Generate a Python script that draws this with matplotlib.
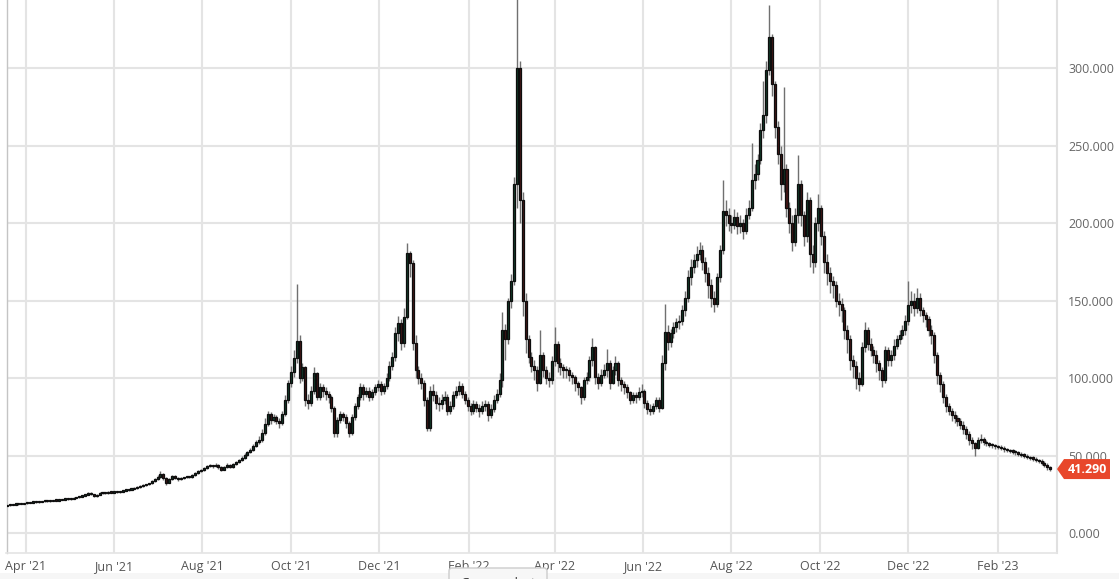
import matplotlib
matplotlib.use('Agg')
import matplotlib.pyplot as plt
import matplotlib.dates as mdates
from matplotlib.patches import Polygon, FancyBboxPatch, Rectangle
from matplotlib.transforms import IdentityTransform
import pandas as pd

plt.rcParams['font.family'] = ['Open Sans', 'DejaVu Sans']

# ---------------- data (one candle per 2 days) ----------------
start_date = '2021-03-19'
first_open = 17.5

closes = [
    17.8, 18.0, 18.3, 18.5, 18.7, 18.9, 19.2, 19.4, 19.6, 20.0,
    20.2, 20.1, 20.4, 20.6, 20.5, 20.8, 21.0, 20.9, 21.3, 21.5,
    21.8, 22.2, 22.0, 22.6, 23.1, 23.5, 24.2, 24.8, 26.0, 25.2,
    23.9, 24.8, 26.0, 25.6, 25.9, 26.4, 26.1, 26.5, 26.2, 26.8,
    27.3, 27.6, 28.0, 28.4, 28.9, 29.6, 30.2, 31.0, 31.4, 32.0,
    33.5, 34.8, 36.4, 38.0, 35.5, 32.5, 34.8, 36.8, 35.6, 34.7,
    35.4, 35.9, 36.4, 36.2, 37.4, 38.8, 40.0,
    40.5, 41.8, 43.0,
    43.5, 43.0, 44.2, 42.5, 41.0, 42.8, 44.0, 42.5, 44.5, 45.8,
    47.0, 48.5, 50.2, 52.0, 53.6, 56.0, 58.5, 60.0, 64.5, 70.5,
    77.0, 73.0, 75.0, 72.5, 71.0, 77.0, 86.0, 97.0, 104.0, 113.0,
    124.0, 100.0, 107.0, 86.0, 84.0, 92.0, 103.0, 88.0, 94.0, 92.0,
    90.0, 88.0, 81.0, 64.5, 73.0, 77.0, 75.0, 71.0, 64.5, 75.0,
    82.0, 88.0, 94.0, 90.0, 92.0, 88.0, 91.0, 94.0, 96.0, 92.0,
    95, 100, 108, 113.6, 129, 135.6, 122.6, 139.6, 180.8, 174,
    122.6, 105, 100, 97, 86, 68, 92, 89, 84, 83,
    86, 88, 79, 82, 89, 92, 95, 90, 86, 82,
    79, 83, 81, 79, 82, 83, 76, 80, 86, 90,
    99,
    131, 125, 150, 163, 225, 300, 215, 150, 125, 113.6,
    108, 105, 97, 115, 105, 100, 99, 111, 122, 110,
    107, 105, 105, 102, 100.7, 97, 94, 88, 99, 100.7,
    112, 120, 100.7, 97, 102, 105, 110, 97, 105, 110,
    99, 96, 94, 91, 86, 89, 88, 91, 92, 84,
    80, 79, 82, 86, 81, 110, 130, 123, 129, 133,
    136, 137, 144, 152, 165, 172, 176, 180, 183, 175,
    168, 160, 152, 148, 165, 183, 208, 205, 200, 199,
    204, 198, 200, 195, 205, 210, 228, 232, 241, 260,
    270, 299, 320, 290, 262, 245, 225, 235, 210, 200,
    188, 205, 225, 205, 192, 215, 180, 175, 200, 210,
    192, 175,
    168, 163, 160, 150, 148, 144, 131, 125, 112, 108,
    100, 96, 120, 131, 122, 118, 115, 110, 105, 99,
    118, 112, 115, 121, 125, 128, 131, 137, 147, 150,
    145, 152, 144, 141, 138, 131, 128, 115, 102, 96,
    88, 82, 79, 76, 74, 72, 70, 67, 64, 60,
    58, 55, 60, 61, 59, 58, 57, 56.5, 56, 55.5,
    55, 54, 53.5, 53, 52.5, 52, 51, 50.5, 50, 49.2,
    48.5, 48, 47.2, 46.5, 45.5, 44, 42.5, 41.29,
]

highs = [
    18.2, 18.4, 18.6, 18.8, 19.0, 19.3, 19.5, 19.8, 20.0, 20.4,
    20.6, 20.5, 20.7, 21.0, 20.9, 21.2, 21.4, 21.3, 21.7, 21.9,
    22.2, 22.6, 22.6, 23.0, 23.5, 24.0, 24.6, 25.3, 26.8, 26.4,
    25.5, 25.2, 26.5, 26.4, 26.3, 26.9, 26.8, 27.0, 26.9, 27.3,
    27.8, 28.1, 28.5, 28.9, 29.4, 30.1, 30.7, 31.6, 31.9, 32.6,
    34.2, 35.5, 37.2, 40.0, 38.5, 36.0, 35.6, 37.5, 37.2, 36.0,
    35.9, 36.4, 36.9, 36.9, 38.0, 39.4, 40.8,
    41.2, 42.6, 44.0,
    44.5, 44.2, 45.0, 44.8, 43.0, 43.5, 45.0, 44.6, 45.2, 46.8,
    48.0, 49.6, 51.5, 53.2, 55.0, 57.5, 60.0, 62.5, 67.0, 74.0,
    79.0, 78.0, 77.0, 76.0, 74.0, 79.0, 89.0, 99.0, 108.0, 118.0,
    161.0, 128.0, 110.0, 108.0, 90.0, 95.0, 107.0, 104.0, 97.0, 96.0,
    94.0, 92.0, 89.0, 82.0, 75.0, 79.0, 78.0, 77.0, 72.0, 77.0,
    84.0, 90.0, 97.0, 96.0, 94.0, 94.0, 93.0, 96.0, 99.0, 98.0,
    97, 103, 111, 117, 133, 140, 138, 145, 187, 182,
    176, 128, 108, 103, 99, 88, 95, 96, 92, 88,
    90, 92, 90, 85, 92, 95, 98, 97, 92, 88,
    84, 86, 85, 83, 85, 86, 85, 83, 89, 93,
    103,
    143, 135, 152, 167, 230, 350, 305, 220, 155, 128,
    117, 112, 108, 131, 117, 108, 104, 114, 133, 124,
    113, 109, 108, 107, 104, 102, 98, 95, 101, 104,
    114, 126, 121, 103, 106, 109, 119, 112, 108, 114,
    111, 101, 98, 96, 92, 91, 91, 94, 96, 93,
    86, 83, 84, 88, 88, 115, 148, 134, 132, 136,
    139, 141, 147, 156, 170, 177, 180, 185, 188, 186,
    178, 172, 164, 156, 168, 186, 228, 215, 210, 205,
    209, 207, 205, 203, 210, 215, 252, 238, 245, 265,
    292, 305, 341, 322, 292, 266, 250, 288, 238, 214,
    205, 210, 244, 228, 208, 220, 217, 186, 204, 219,
    212, 195,
    180, 172, 166, 163, 155, 152, 146, 134, 128, 115,
    111, 104, 123, 136, 133, 126, 121, 118, 112, 107,
    121, 120, 118, 125, 128, 131, 134, 141, 163, 156,
    155, 158, 155, 146, 143, 140, 134, 130, 117, 104,
    98, 90, 84, 81, 79, 76, 74, 72, 69, 66,
    62, 59, 62, 64, 62, 60, 59, 58, 57.5, 57,
    56.5, 56, 55, 54.5, 54, 53.5, 53, 52, 51.5, 51,
    50, 49.5, 49, 48, 47.5, 46.5, 45, 43.5,
]

lows = [
    17.3, 17.6, 17.8, 18.1, 18.3, 18.5, 18.7, 19.0, 19.2, 19.4,
    19.7, 19.7, 19.8, 20.2, 20.1, 20.3, 20.6, 20.5, 20.7, 21.1,
    21.3, 21.6, 21.6, 21.8, 22.4, 22.8, 23.3, 24.0, 24.4, 24.6,
    23.0, 23.5, 24.5, 25.1, 25.2, 25.5, 25.6, 25.8, 25.8, 25.9,
    26.6, 27.0, 27.3, 27.8, 28.1, 28.6, 29.3, 29.8, 30.5, 31.0,
    31.5, 33.0, 34.3, 35.8, 34.5, 31.0, 32.0, 34.2, 35.0, 33.8,
    34.2, 35.0, 35.5, 35.5, 35.8, 37.0, 38.4,
    39.5, 40.0, 41.2,
    42.3, 42.0, 42.5, 41.6, 40.2, 40.6, 42.0, 41.8, 42.0, 43.8,
    45.2, 46.5, 48.0, 49.6, 51.5, 53.0, 55.5, 57.5, 59.0, 63.0,
    69.0, 70.5, 71.5, 70.5, 68.0, 70.0, 75.5, 84.0, 94.0, 101.0,
    110.0, 97.0, 98.0, 82.0, 80.0, 82.0, 90.0, 86.0, 86.0, 88.0,
    86.0, 84.0, 78.0, 62.0, 62.0, 71.0, 72.0, 68.0, 62.0, 63.0,
    73.0, 80.0, 86.0, 86.0, 88.0, 85.0, 86.0, 89.0, 92.0, 89.0,
    90, 93, 98, 105, 111, 124, 118, 120, 138, 165,
    118, 100, 96, 93, 82, 66, 66, 85, 80, 79,
    80, 83, 76, 77, 80, 87, 89, 87, 83, 79,
    76, 77, 78, 75, 77, 79, 72, 74, 78, 84,
    88,
    94, 112, 122, 145, 160, 210, 200, 140, 116, 110,
    104, 99, 92, 96, 101, 96, 94, 96, 108, 104,
    102, 100, 100, 98, 96, 92, 89, 83, 86, 96,
    98, 108, 96, 93, 95, 100, 101, 93, 96, 102,
    95, 92, 90, 87, 83, 84, 84, 86, 88, 81,
    77, 76, 77, 80, 78, 80, 105, 118, 120, 126,
    130, 132, 134, 140, 149, 160, 168, 172, 176, 170,
    162, 152, 146, 143, 146, 162, 180, 198, 195, 194,
    196, 193, 194, 190, 193, 203, 208, 222, 228, 238,
    255, 265, 296, 282, 255, 238, 215, 220, 204, 194,
    182, 185, 200, 198, 185, 188, 172, 168, 172, 195,
    186, 168,
    160, 155, 152, 146, 140, 136, 125, 116, 105, 100,
    93, 92, 95, 117, 118, 114, 110, 104, 99, 94,
    97, 108, 108, 112, 119, 122, 125, 128, 134, 142,
    140, 142, 140, 136, 133, 127, 122, 110, 96, 91,
    84, 78, 76, 72, 71, 69, 67, 64, 61, 57,
    54, 50, 54, 58, 57, 56, 55.5, 55, 54.5, 54,
    53.5, 52.5, 52, 51.5, 51, 50.5, 49.5, 49, 48.5, 48,
    47, 46.5, 46, 45, 44, 42.5, 41, 40.2,
]

y_ticks = [0, 50, 100, 150, 200, 250, 300]
x_tick_dates = ['2021-04-01', '2021-06-01', '2021-08-01', '2021-10-01',
                '2021-12-01', '2022-02-01', '2022-04-01', '2022-06-01',
                '2022-08-01', '2022-10-01', '2022-12-01', '2023-02-01']
x_tick_labels = ["Apr '21", "Jun '21", "Aug '21", "Oct '21", "Dec '21",
                 "Feb '22", "Apr '22", "Jun '22", "Aug '22", "Oct '22",
                 "Dec '22", "Feb '23"]
last_price_label = '41.290'
button_label = 'Group select'

# ---------------- figure ----------------
W, H = 1119, 579
fig = plt.figure(figsize=(W / 100, H / 100), dpi=100)
fig.patch.set_facecolor('white')

fig.add_artist(Rectangle((0, 0), 1, 6 / H, transform=fig.transFigure,
                         facecolor='#f6f6f6', edgecolor='none', zorder=0))

ax = fig.add_axes([6.5 / W, 26 / H, (1057 - 6.5) / W, 553 / H])

n = len(closes)
dates = pd.date_range(start_date, periods=n, freq='2D')
xs = mdates.date2num(dates)
opens = [first_open] + closes[:-1]

body_w = 1.4
for x, o, h, l, c in zip(xs, opens, highs, lows, closes):
    hi = max(h, o, c)
    lo = min(l, o, c)
    ax.vlines(x, lo, hi, color='#707070', linewidth=1.0, zorder=3)
    up = c >= o
    fc = '#123d2a' if up else '#441616'
    bottom = min(o, c)
    height = max(abs(c - o), 0.8)
    ax.bar(x, height, bottom=bottom, width=body_w, color=fc,
           edgecolor='#0d0d0d', linewidth=0.9, zorder=4)

ax.set_ylim(-12.9, 344.1)
x0 = mdates.date2num(pd.Timestamp('2021-03-18 18:00'))
x1 = mdates.date2num(pd.Timestamp('2023-03-13 16:00'))
ax.set_xlim(x0, x1)

ax.set_yticks(y_ticks)
ax.set_yticklabels([f'{v:.3f}' for v in y_ticks])
ax.yaxis.tick_right()
ax.tick_params(axis='y', length=0, pad=8, labelsize=9, labelcolor='#666666')

tick_pos = mdates.date2num(pd.to_datetime(x_tick_dates))
ax.set_xticks(tick_pos)
ax.set_xticklabels(x_tick_labels)
ax.tick_params(axis='x', length=0, pad=5, labelsize=9, labelcolor='#555555')

ax.grid(True, color='#e4e4e4', linewidth=1.5, zorder=0)
ax.set_axisbelow(True)
ax.spines['top'].set_visible(False)
ax.spines['left'].set_color('#c4c4c4')
ax.spines['left'].set_linewidth(1.0)
ax.spines['right'].set_color('#e0e0e0')
ax.spines['right'].set_linewidth(1.5)
ax.spines['bottom'].set_color('#e4e4e4')
ax.spines['bottom'].set_linewidth(1.2)

# last price tag
fig.canvas.draw()
yc = ax.transData.transform((xs[-1], closes[-1]))[1]
xr = ax.transAxes.transform((1, 0))[0]
tag = Polygon([(xr, yc), (xr + 7, yc + 10), (xr + 53, yc + 10),
               (xr + 53, yc - 10), (xr + 7, yc - 10)], closed=True,
              transform=IdentityTransform(), facecolor='#e8472b',
              edgecolor='none', zorder=10)
fig.add_artist(tag)
fig.text((xr + 30) / W, yc / H, last_price_label, color='white',
         fontsize=9, fontweight='bold', ha='center', va='center', zorder=11)

# partially visible button at the bottom (cut off as in the reference)
btn = FancyBboxPatch((449, -14), 98, 25, boxstyle='round,pad=0,rounding_size=3',
                     transform=IdentityTransform(), facecolor='#f7f7f7',
                     edgecolor='#cccccc', linewidth=1.0, zorder=5)
fig.add_artist(btn)
fig.text(498 / W, -4 / H, button_label, color='#333333', fontsize=9,
         ha='center', va='center', zorder=6)

fig.savefig('out.png', dpi=100)
